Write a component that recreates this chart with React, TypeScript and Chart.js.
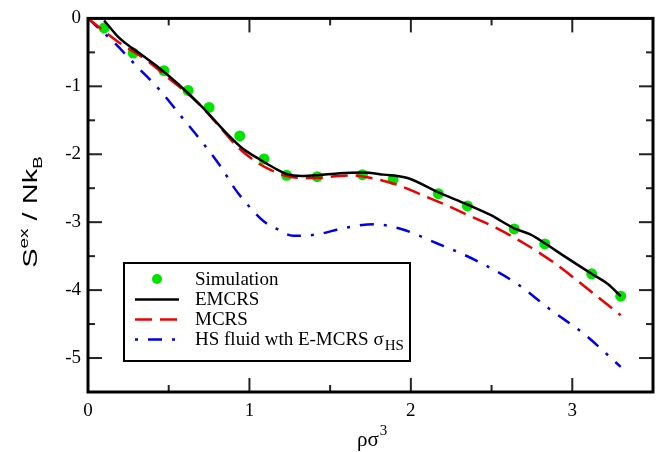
import { useEffect, useRef } from 'react';
import { Chart, registerables } from 'chart.js';
Chart.register(...registerables);

const simX = [0.10, 0.28, 0.47, 0.62, 0.75, 0.94, 1.09, 1.23, 1.42, 1.70, 1.89, 2.17, 2.35, 2.64, 2.83, 3.12, 3.30];
const simY = [-0.14, -0.51, -0.77, -1.06, -1.31, -1.73, -2.07, -2.31, -2.33, -2.30, -2.37, -2.58, -2.76, -3.10, -3.32, -3.76, -4.09];

const emcrsX = [0.10, 0.19, 0.34, 0.42, 0.56, 0.71, 0.85, 0.96, 1.06, 1.16, 1.23, 1.32, 1.42, 1.56, 1.70, 1.83, 1.98, 2.16, 2.35, 2.49, 2.64, 2.74, 2.83, 2.95, 3.12, 3.22, 3.30];
const emcrsY = [-0.03, -0.28, -0.55, -0.69, -0.97, -1.31, -1.67, -1.92, -2.07, -2.21, -2.29, -2.32, -2.31, -2.28, -2.27, -2.30, -2.35, -2.55, -2.74, -2.89, -3.09, -3.18, -3.31, -3.50, -3.76, -3.91, -4.09];

const mcrsX = [0.00, 0.19, 0.36, 0.50, 0.67, 0.81, 0.93, 1.06, 1.14, 1.23, 1.33, 1.42, 1.55, 1.63, 1.73, 1.89, 2.10, 2.22, 2.33, 2.49, 2.70, 2.90, 3.11, 3.30];
const mcrsY = [0.00, -0.35, -0.61, -0.88, -1.22, -1.58, -1.90, -2.14, -2.24, -2.32, -2.35, -2.35, -2.32, -2.31, -2.34, -2.43, -2.63, -2.75, -2.87, -3.04, -3.31, -3.62, -4.01, -4.37];

const hsX = [0.00, 0.06, 0.16, 0.30, 0.45, 0.58, 0.71, 0.83, 0.91, 1.01, 1.09, 1.17, 1.27, 1.42, 1.58, 1.77, 1.94, 2.16, 2.33, 2.45, 2.66, 2.86, 3.07, 3.30];
const hsY = [0.00, -0.13, -0.35, -0.70, -1.07, -1.45, -1.83, -2.21, -2.51, -2.80, -2.99, -3.10, -3.20, -3.18, -3.09, -3.03, -3.10, -3.31, -3.48, -3.62, -3.91, -4.28, -4.64, -5.13];

const xMajor = [0, 1, 2, 3];
const xMinor = [0.5, 1.5, 2.5];
const yMajor = [0, -1, -2, -3, -4, -5];
const yMinor = [-0.5, -1.5, -2.5, -3.5, -4.5];

const legendLabels = ['Simulation', 'EMCRS', 'MCRS', 'HS fluid wth E-MCRS σ'];

const GREEN = '#00e400';
const RED = '#ee0000';
const BLUE = '#0000ee';
const SERIF = '"Liberation Serif", "DejaVu Serif", serif';
const SANS = '"Liberation Sans", Arial, sans-serif';

const zip = (xs: number[], ys: number[]) => xs.map((x, i) => ({ x, y: ys[i] }));

const overlay = {
  id: 'overlay',
  afterDatasetsDraw(chart: any) {
    const ctx = chart.ctx as CanvasRenderingContext2D;
    const { left, right, top, bottom } = chart.chartArea;
    const xs = chart.scales.x;
    const ys = chart.scales.y;
    ctx.save();
    // ticks
    ctx.strokeStyle = '#222';
    ctx.lineWidth = 2;
    const tick = (x1: number, y1: number, x2: number, y2: number) => {
      ctx.beginPath();
      ctx.moveTo(x1, y1);
      ctx.lineTo(x2, y2);
      ctx.stroke();
    };
    const MJ = 14, MN = 7;
    xMajor.forEach((v) => {
      const p = xs.getPixelForValue(v);
      tick(p, bottom, p, bottom - MJ);
      tick(p, top, p, top + MJ);
    });
    xMinor.forEach((v) => {
      const p = xs.getPixelForValue(v);
      tick(p, bottom, p, bottom - MN);
      tick(p, top, p, top + MN);
    });
    yMajor.forEach((v) => {
      const p = ys.getPixelForValue(v);
      tick(left, p, left + MJ, p);
      tick(right, p, right - MJ, p);
    });
    yMinor.forEach((v) => {
      const p = ys.getPixelForValue(v);
      tick(left, p, left + MN, p);
      tick(right, p, right - MN, p);
    });
    // frame
    ctx.strokeStyle = '#000';
    ctx.lineWidth = 3;
    ctx.strokeRect(left, top, right - left, bottom - top);

    // legend
    const lx = 124, ly = 263, lw = 286, lh = 98;
    ctx.fillStyle = '#fff';
    ctx.fillRect(lx, ly, lw, lh);
    ctx.lineWidth = 2;
    ctx.strokeStyle = '#000';
    ctx.strokeRect(lx, ly, lw, lh);
    const rowY = [279, 299.5, 319.5, 339.5];
    const textX = 195;
    const s1 = 135, s2 = 179;
    ctx.fillStyle = GREEN;
    ctx.beginPath();
    ctx.arc(157, rowY[0], 5, 0, Math.PI * 2);
    ctx.fill();
    ctx.lineWidth = 2.5;
    ctx.strokeStyle = '#000';
    ctx.setLineDash([]);
    tick(s1, rowY[1], s2, rowY[1]);
    ctx.strokeStyle = RED;
    ctx.setLineDash([17, 8]);
    tick(s1, rowY[2], s2, rowY[2]);
    ctx.strokeStyle = BLUE;
    ctx.setLineDash([3, 10, 14, 10]);
    tick(s1, rowY[3], s2, rowY[3]);
    ctx.setLineDash([]);
    ctx.fillStyle = '#000';
    ctx.font = `19px ${SERIF}`;
    ctx.textBaseline = 'middle';
    ctx.textAlign = 'left';
    legendLabels.forEach((t, i) => {
      ctx.fillText(t, textX, rowY[i] + 1);
    });
    const w4 = ctx.measureText(legendLabels[3]).width;
    ctx.font = `15px ${SERIF}`;
    ctx.fillText('HS', textX + w4 + 1, rowY[3] + 7);

    // x title
    ctx.textBaseline = 'alphabetic';
    ctx.font = `21px ${SERIF}`;
    ctx.fillText('ρσ', 357, 446);
    const wx = ctx.measureText('ρσ').width;
    ctx.font = `15px ${SERIF}`;
    ctx.fillText('3', 357 + wx + 1, 435);

    // y title
    ctx.save();
    ctx.translate(37, 212);
    ctx.rotate(-Math.PI / 2);
    ctx.scale(1.45, 1);
    const big = `20px ${SANS}`;
    const small = `13px ${SANS}`;
    ctx.font = big;
    const wS = ctx.measureText('S').width;
    const wMid = ctx.measureText(' / Nk').width;
    ctx.font = small;
    const wEx = ctx.measureText('ex').width;
    const wB = ctx.measureText('B').width;
    const total = wS + wEx + wMid + wB;
    let cx = -total / 2;
    ctx.font = big;
    ctx.fillText('S', cx, 0);
    cx += wS;
    ctx.font = small;
    ctx.fillText('ex', cx, -9);
    cx += wEx;
    ctx.font = big;
    ctx.fillText(' / Nk', cx, 0);
    cx += wMid;
    ctx.font = small;
    ctx.fillText('B', cx, 5);
    ctx.restore();

    ctx.restore();
  },
};

export default function App() {
  const ref = useRef<HTMLCanvasElement>(null);
  useEffect(() => {
    if (!ref.current) return;
    const chart = new Chart(ref.current, {
      type: 'scatter',
      data: {
        datasets: [
          {
            label: 'EMCRS',
            data: zip(emcrsX, emcrsY),
            showLine: true,
            borderColor: '#000',
            borderWidth: 2.5,
            pointRadius: 0,
            cubicInterpolationMode: 'monotone',
          },
          {
            label: 'MCRS',
            data: zip(mcrsX, mcrsY),
            showLine: true,
            borderColor: RED,
            borderWidth: 2.5,
            borderDash: [17, 8],
            pointRadius: 0,
            cubicInterpolationMode: 'monotone',
          },
          {
            label: 'HS',
            data: zip(hsX, hsY),
            showLine: true,
            borderColor: BLUE,
            borderWidth: 2.5,
            borderDash: [14, 10, 3, 10],
            pointRadius: 0,
            cubicInterpolationMode: 'monotone',
          },
          {
            label: 'Simulation',
            data: zip(simX, simY),
            showLine: false,
            backgroundColor: GREEN,
            borderWidth: 0,
            pointRadius: 5.5,
          },
        ],
      } as any,
      options: {
        animation: false,
        responsive: false,
        maintainAspectRatio: false,
        layout: { padding: { top: 14, right: 11, left: 0, bottom: 0 } },
        plugins: { legend: { display: false }, tooltip: { enabled: false } },
        scales: {
          x: {
            type: 'linear',
            min: 0,
            max: 3.5,
            grid: { display: false, drawTicks: false },
            border: { display: false },
            afterBuildTicks: (s: any) => {
              s.ticks = xMajor.map((v) => ({ value: v }));
            },
            afterFit: (s: any) => {
              s.height = 60;
            },
            ticks: {
              padding: 8,
              color: '#000',
              font: { family: SERIF, size: 19 },
              callback: (v: any) => String(v),
              maxRotation: 0,
            },
          },
          y: {
            type: 'linear',
            min: -5.5,
            max: 0,
            grid: { display: false, drawTicks: false },
            border: { display: false },
            afterBuildTicks: (s: any) => {
              s.ticks = yMajor.map((v) => ({ value: v }));
            },
            afterFit: (s: any) => {
              s.width = 88;
            },
            ticks: {
              padding: 7,
              color: '#000',
              font: { family: SERIF, size: 19 },
              callback: (v: any) => String(v),
            },
          },
        },
      } as any,
      plugins: [overlay],
    });
    return () => chart.destroy();
  }, []);
  return (
    <div style={{ position: 'fixed', left: 0, top: 0, width: 664, height: 452, background: '#fff' }}>
      <canvas ref={ref} width={664} height={452} style={{ width: 664, height: 452 }} />
    </div>
  );
}
